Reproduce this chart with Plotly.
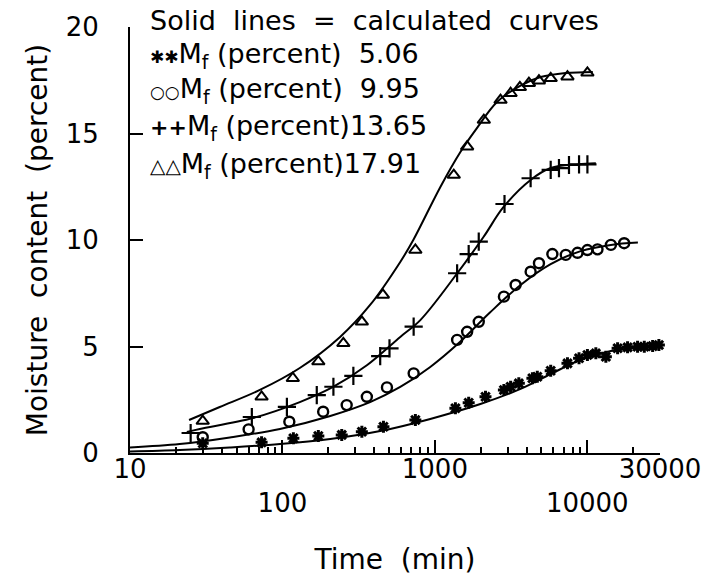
import plotly.graph_objects as go

# ---------------- data ----------------
# measured points, M_f = 5.06 %
ast_t = [30, 73, 118, 172, 245, 332, 460, 745, 1364, 1667, 2149, 2838, 3141, 3556, 4365, 4700,
         5754, 7413, 8830, 10020, 11380, 13240, 15810, 18380, 21380, 23660, 26840, 29500]
ast_M = [0.46, 0.50, 0.69, 0.80, 0.85, 1.00, 1.23, 1.55, 2.10, 2.36, 2.64, 2.96, 3.11, 3.27, 3.51, 3.58,
         3.86, 4.21, 4.45, 4.60, 4.68, 4.52, 4.92, 4.96, 4.99, 4.99, 5.02, 5.07]
# M_f = 9.95 %
circ_t = [30, 60, 111, 185, 264, 358, 485, 726, 1400, 1629, 1941, 2838, 3388, 4250, 4819, 5902,
          7228, 8630, 10020, 11670, 14290, 17460]
circ_M = [0.74, 1.11, 1.47, 1.94, 2.25, 2.64, 3.08, 3.74, 5.31, 5.69, 6.16, 7.34, 7.89, 8.51, 8.91, 9.34,
          9.30, 9.40, 9.53, 9.56, 9.77, 9.85]
# M_f = 13.65 %
plus_t = [25, 63, 107, 168, 216, 292, 438, 504, 726, 1400, 1667, 1941, 2864, 4250, 5754, 6521,
          7586, 8831, 10020]
plus_M = [0.94, 1.69, 2.17, 2.72, 3.11, 3.62, 4.55, 4.91, 5.93, 8.44, 9.34, 9.92, 11.69, 12.90, 13.29, 13.37,
          13.52, 13.55, 13.55]
# M_f = 17.91 %
tri_t = [30, 73, 117, 172, 251, 332, 456, 745, 1331, 1629, 2096, 2697, 3140, 3613, 4141, 4819,
         5756, 7413, 10020]
tri_M = [1.50, 2.64, 3.51, 4.29, 5.15, 6.16, 7.42, 9.53, 13.05, 14.38, 15.63, 16.57, 16.89, 17.17, 17.36, 17.48,
         17.59, 17.67, 17.85]

# calculated curves
calc5_t = [10, 21.2, 45.2, 96.4, 206, 438, 933, 1990, 3650, 5750, 9060, 14280, 22500, 29500]
calc5_M = [0.07, 0.14, 0.26, 0.42, 0.66, 1.03, 1.60, 2.30, 3.01, 3.71, 4.37, 4.79, 4.95, 5.00]
calc10_t = [10, 21.2, 45.2, 96.4, 206, 376, 593, 933, 1460, 2280, 3650, 5750, 9060, 14280, 21480]
calc10_M = [0.26, 0.42, 0.73, 1.13, 1.74, 2.39, 3.10, 4.04, 5.21, 6.57, 7.89, 8.87, 9.48, 9.77, 9.88]
calc14_t = [23.6, 28.7, 64.0, 130, 215, 360, 593, 803, 1406, 2085, 2824, 4246, 5754, 8670, 11380]
calc14_M = [0.99, 1.13, 1.64, 2.39, 3.10, 4.13, 5.45, 6.24, 8.45, 10.14, 11.55, 12.82, 13.38, 13.55, 13.60]
calc18_t = [24.4, 38.8, 71.1, 130, 239, 376, 593, 722, 1087, 1471, 1847, 2576, 3650, 4940, 7210, 10870]
calc18_M = [1.55, 2.16, 2.96, 3.99, 5.45, 6.95, 8.97, 10.0, 12.49, 14.13, 15.16, 16.50, 17.25, 17.65, 17.84, 17.89]

x_tickvals = [10, 100, 1000, 10000, 30000]
x_ticktext = ["10", " <br>100", "1000", " <br>10000", "30000"]
y_tickvals = [0, 5, 10, 15, 20]

legend_title = "Solid\u00a0 lines\u00a0 =\u00a0 calculated\u00a0 curves"
legend_rows = [
    ('<span style="font-size:17px">\u2731\u2731</span>', "\u00a0\u00a05.06"),
    ('<span style="font-size:17px"><b>\u25cb\u25cb</b></span>', "\u00a0\u00a09.95"),
    ('<span style="font-size:22px"><b>++</b></span>', "13.65"),
    ('<span style="font-size:20px"><b>\u25b3\u25b3</b></span>', "17.91"),
]

FONT = "DejaVu Sans"

fig = go.Figure()

for t, m in [(calc5_t, calc5_M), (calc10_t, calc10_M), (calc14_t, calc14_M), (calc18_t, calc18_M)]:
    fig.add_trace(go.Scatter(x=t, y=m, mode="lines", line=dict(color="black", width=2, shape="spline"),
                             showlegend=False, hoverinfo="skip"))

fig.add_trace(go.Scatter(x=ast_t, y=ast_M, mode="markers", cliponaxis=False, showlegend=False,
                         marker=dict(symbol="asterisk-open", size=10, color="black",
                                     line=dict(color="black", width=3))))
fig.add_trace(go.Scatter(x=circ_t, y=circ_M, mode="markers", cliponaxis=False, showlegend=False,
                         marker=dict(symbol="circle-open", size=10, color="black",
                                     line=dict(color="black", width=2.4))))
fig.add_trace(go.Scatter(x=plus_t, y=plus_M, mode="markers", cliponaxis=False, showlegend=False,
                         marker=dict(symbol="cross-thin-open", size=13, color="black",
                                     line=dict(color="black", width=2.2))))
fig.add_trace(go.Scatter(x=tri_t, y=tri_M, mode="markers", cliponaxis=False, showlegend=False,
                         marker=dict(symbol="triangle-up-open", size=11, color="black",
                                     line=dict(color="black", width=2))))

# legend drawn as text
row_y = [1.016, 0.932, 0.852, 0.763, 0.676]
fig.add_annotation(xref="paper", yref="paper", x=0.034, y=row_y[0], xanchor="left", yanchor="middle",
                   text=legend_title, showarrow=False, font=dict(family=FONT, size=27, color="black"))
for (sym, val), yy in zip(legend_rows, row_y[1:]):
    fig.add_annotation(xref="paper", yref="paper", x=0.034, y=yy, xanchor="left", yanchor="middle",
                       text=sym + "M<sub>f</sub>\u00a0(percent)" + val, showarrow=False,
                       font=dict(family=FONT, size=27, color="black"))

fig.update_layout(
    width=703, height=576,
    margin=dict(l=130, r=43, t=27, b=123),
    paper_bgcolor="white", plot_bgcolor="white",
    font=dict(family=FONT, size=26, color="black"),
    showlegend=False,
)
fig.update_xaxes(
    type="log", range=[1, 4.4771], automargin=False,
    showline=True, linecolor="black", linewidth=2, mirror=False,
    showgrid=False, zeroline=False,
    ticks="inside", ticklen=13, tickwidth=2, tickcolor="black",
    tickmode="array", tickvals=x_tickvals, ticktext=x_ticktext, tickangle=0,
    tickfont=dict(family=FONT, size=26, color="black"),
    ticklabelstandoff=-8,
    minor=dict(ticks="inside", ticklen=6, tickwidth=1.5, tickcolor="black", dtick="D1", showgrid=False),
    title=dict(text="Time\u00a0 (min)", font=dict(family=FONT, size=28, color="black"), standoff=34),
)
fig.update_yaxes(
    range=[0, 20], automargin=False,
    showline=True, linecolor="black", linewidth=2, mirror=False,
    showgrid=False, zeroline=False,
    ticks="inside", ticklen=13, tickwidth=2, tickcolor="black",
    tickmode="array", tickvals=y_tickvals,
    tickfont=dict(family=FONT, size=26, color="black"),
    ticklabelstandoff=24,
    title=dict(text="Moisture\u00a0 content\u00a0 (percent)", font=dict(family=FONT, size=28, color="black"),
               standoff=10),
)

fig.write_html("out.html", config={"displayModeBar": False},
               post_script="document.body.style.margin='0px';")
